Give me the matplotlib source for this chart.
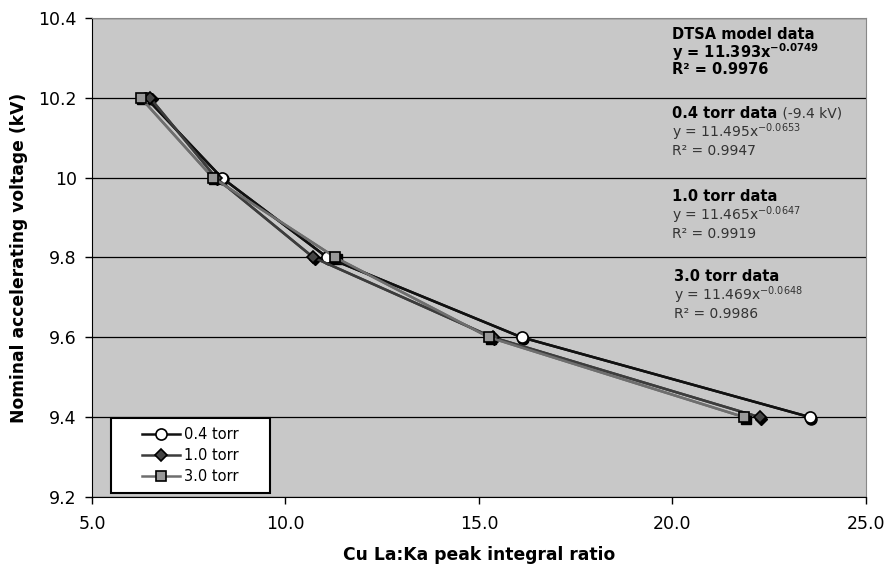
import matplotlib.pyplot as plt
from matplotlib.patches import Rectangle
from matplotlib.transforms import offset_copy

# Cu La:Ka peak integral ratio vs nominal voltage
voltage = [10.2, 10.0, 9.8, 9.6, 9.4]
ratio_04 = [6.40, 8.35, 11.08, 16.10, 23.55]
ratio_10 = [6.50, 8.20, 10.72, 15.35, 22.25]
ratio_30 = [6.26, 8.12, 11.29, 15.26, 21.85]

labels = ['0.4 torr', '1.0 torr', '3.0 torr']
series = [ratio_04, ratio_10, ratio_30]
line_colors = ['#111111', '#3c3c3c', '#6e6e6e']
markers = ['o', 'D', 's']
face_colors = ['white', '#444444', '#999999']
marker_sizes = [8, 6.5, 7.5]

fig = plt.figure(figsize=(8.88, 5.65), dpi=100)
ax = fig.add_axes([0.1036, 0.1204, 0.8716, 0.8478])
ax.set_facecolor('#c8c8c8')

shadow = offset_copy(ax.transData, fig=fig, x=1.5, y=-1.5, units='dots')
for xs, lab, lc, mk, fc, ms in zip(series, labels, line_colors, markers, face_colors, marker_sizes):
    ax.plot(xs, voltage, color=lc, lw=1.8, zorder=3)
    ax.plot(xs, voltage, ls='none', marker=mk, ms=ms, mfc='black', mec='black',
            transform=shadow, zorder=3)
    ax.plot(xs, voltage, color=lc, lw=1.8, marker=mk, ms=ms, mfc=fc, mec='black',
            mew=1.2, label=lab, zorder=4)

ax.set_xlim(5, 25)
ax.set_ylim(9.2, 10.4)
ax.set_xticks([5, 10, 15, 20, 25])
ax.set_xticklabels(['5.0', '10.0', '15.0', '20.0', '25.0'])
ax.set_yticks([9.2, 9.4, 9.6, 9.8, 10.0, 10.2, 10.4])
ax.set_yticklabels(['9.2', '9.4', '9.6', '9.8', '10', '10.2', '10.4'])
ax.tick_params(direction='out', length=5, width=1, labelsize=12.5, colors='black', pad=6)
ax.tick_params(axis='x', pad=8)
ax.grid(axis='y', color='black', lw=0.9)
ax.set_axisbelow(True)
for side in ['top', 'right']:
    ax.spines[side].set_color('#888888')
ax.spines['left'].set_color('black')
ax.spines['bottom'].set_color('black')

ax.set_xlabel('Cu La:Ka peak integral ratio', fontsize=12.3, fontweight='bold', labelpad=9)
ax.set_ylabel('Nominal accelerating voltage (kV)', fontsize=12.3, fontweight='bold', labelpad=7)

# fit equations
tx = 0.75
ax.text(tx, 0.965, 'DTSA model data', transform=ax.transAxes, fontsize=10.5, fontweight='bold', va='center')
ax.text(tx, 0.928, 'y = 11.393x$^{\\mathbf{-0.0749}}$', transform=ax.transAxes, fontsize=10.5,
        fontweight='bold', va='center')
ax.text(tx, 0.893, 'R² = 0.9976', transform=ax.transAxes, fontsize=10.5, fontweight='bold', va='center')

t = ax.text(tx, 0.800, '0.4 torr data', transform=ax.transAxes, fontsize=10.5, fontweight='bold', va='center')
ax.annotate(' (-9.4 kV)', xy=(1, 0.5), xycoords=t, va='center', fontsize=10, color='#333333')
ax.text(tx, 0.762, 'y = 11.495x$^{-0.0653}$', transform=ax.transAxes, fontsize=10, color='#333333', va='center')
ax.text(tx, 0.722, 'R² = 0.9947', transform=ax.transAxes, fontsize=10, color='#333333', va='center')

ax.text(tx, 0.628, '1.0 torr data', transform=ax.transAxes, fontsize=10.5, fontweight='bold', va='center')
ax.text(tx, 0.588, 'y = 11.465x$^{-0.0647}$', transform=ax.transAxes, fontsize=10, color='#333333', va='center')
ax.text(tx, 0.550, 'R² = 0.9919', transform=ax.transAxes, fontsize=10, color='#333333', va='center')

ax.text(tx + 0.002, 0.461, '3.0 torr data', transform=ax.transAxes, fontsize=10.5, fontweight='bold', va='center')
ax.text(tx + 0.002, 0.422, 'y = 11.469x$^{-0.0648}$', transform=ax.transAxes, fontsize=10, color='#333333', va='center')
ax.text(tx + 0.002, 0.383, 'R² = 0.9986', transform=ax.transAxes, fontsize=10, color='#333333', va='center')

# legend: white box with the entries centred inside it
ax.add_patch(Rectangle((0.0245, 0.0084), 0.2054, 0.1566, transform=ax.transAxes,
                       facecolor='white', edgecolor='black', lw=1.5, zorder=5))
leg = ax.legend(loc='center', bbox_to_anchor=(0.1272, 0.0867), fontsize=10.5, frameon=False,
                handlelength=2.6, labelspacing=0.42, handletextpad=0.3, borderpad=0)
leg.set_zorder(6)

fig.savefig('out.png', dpi=100)
